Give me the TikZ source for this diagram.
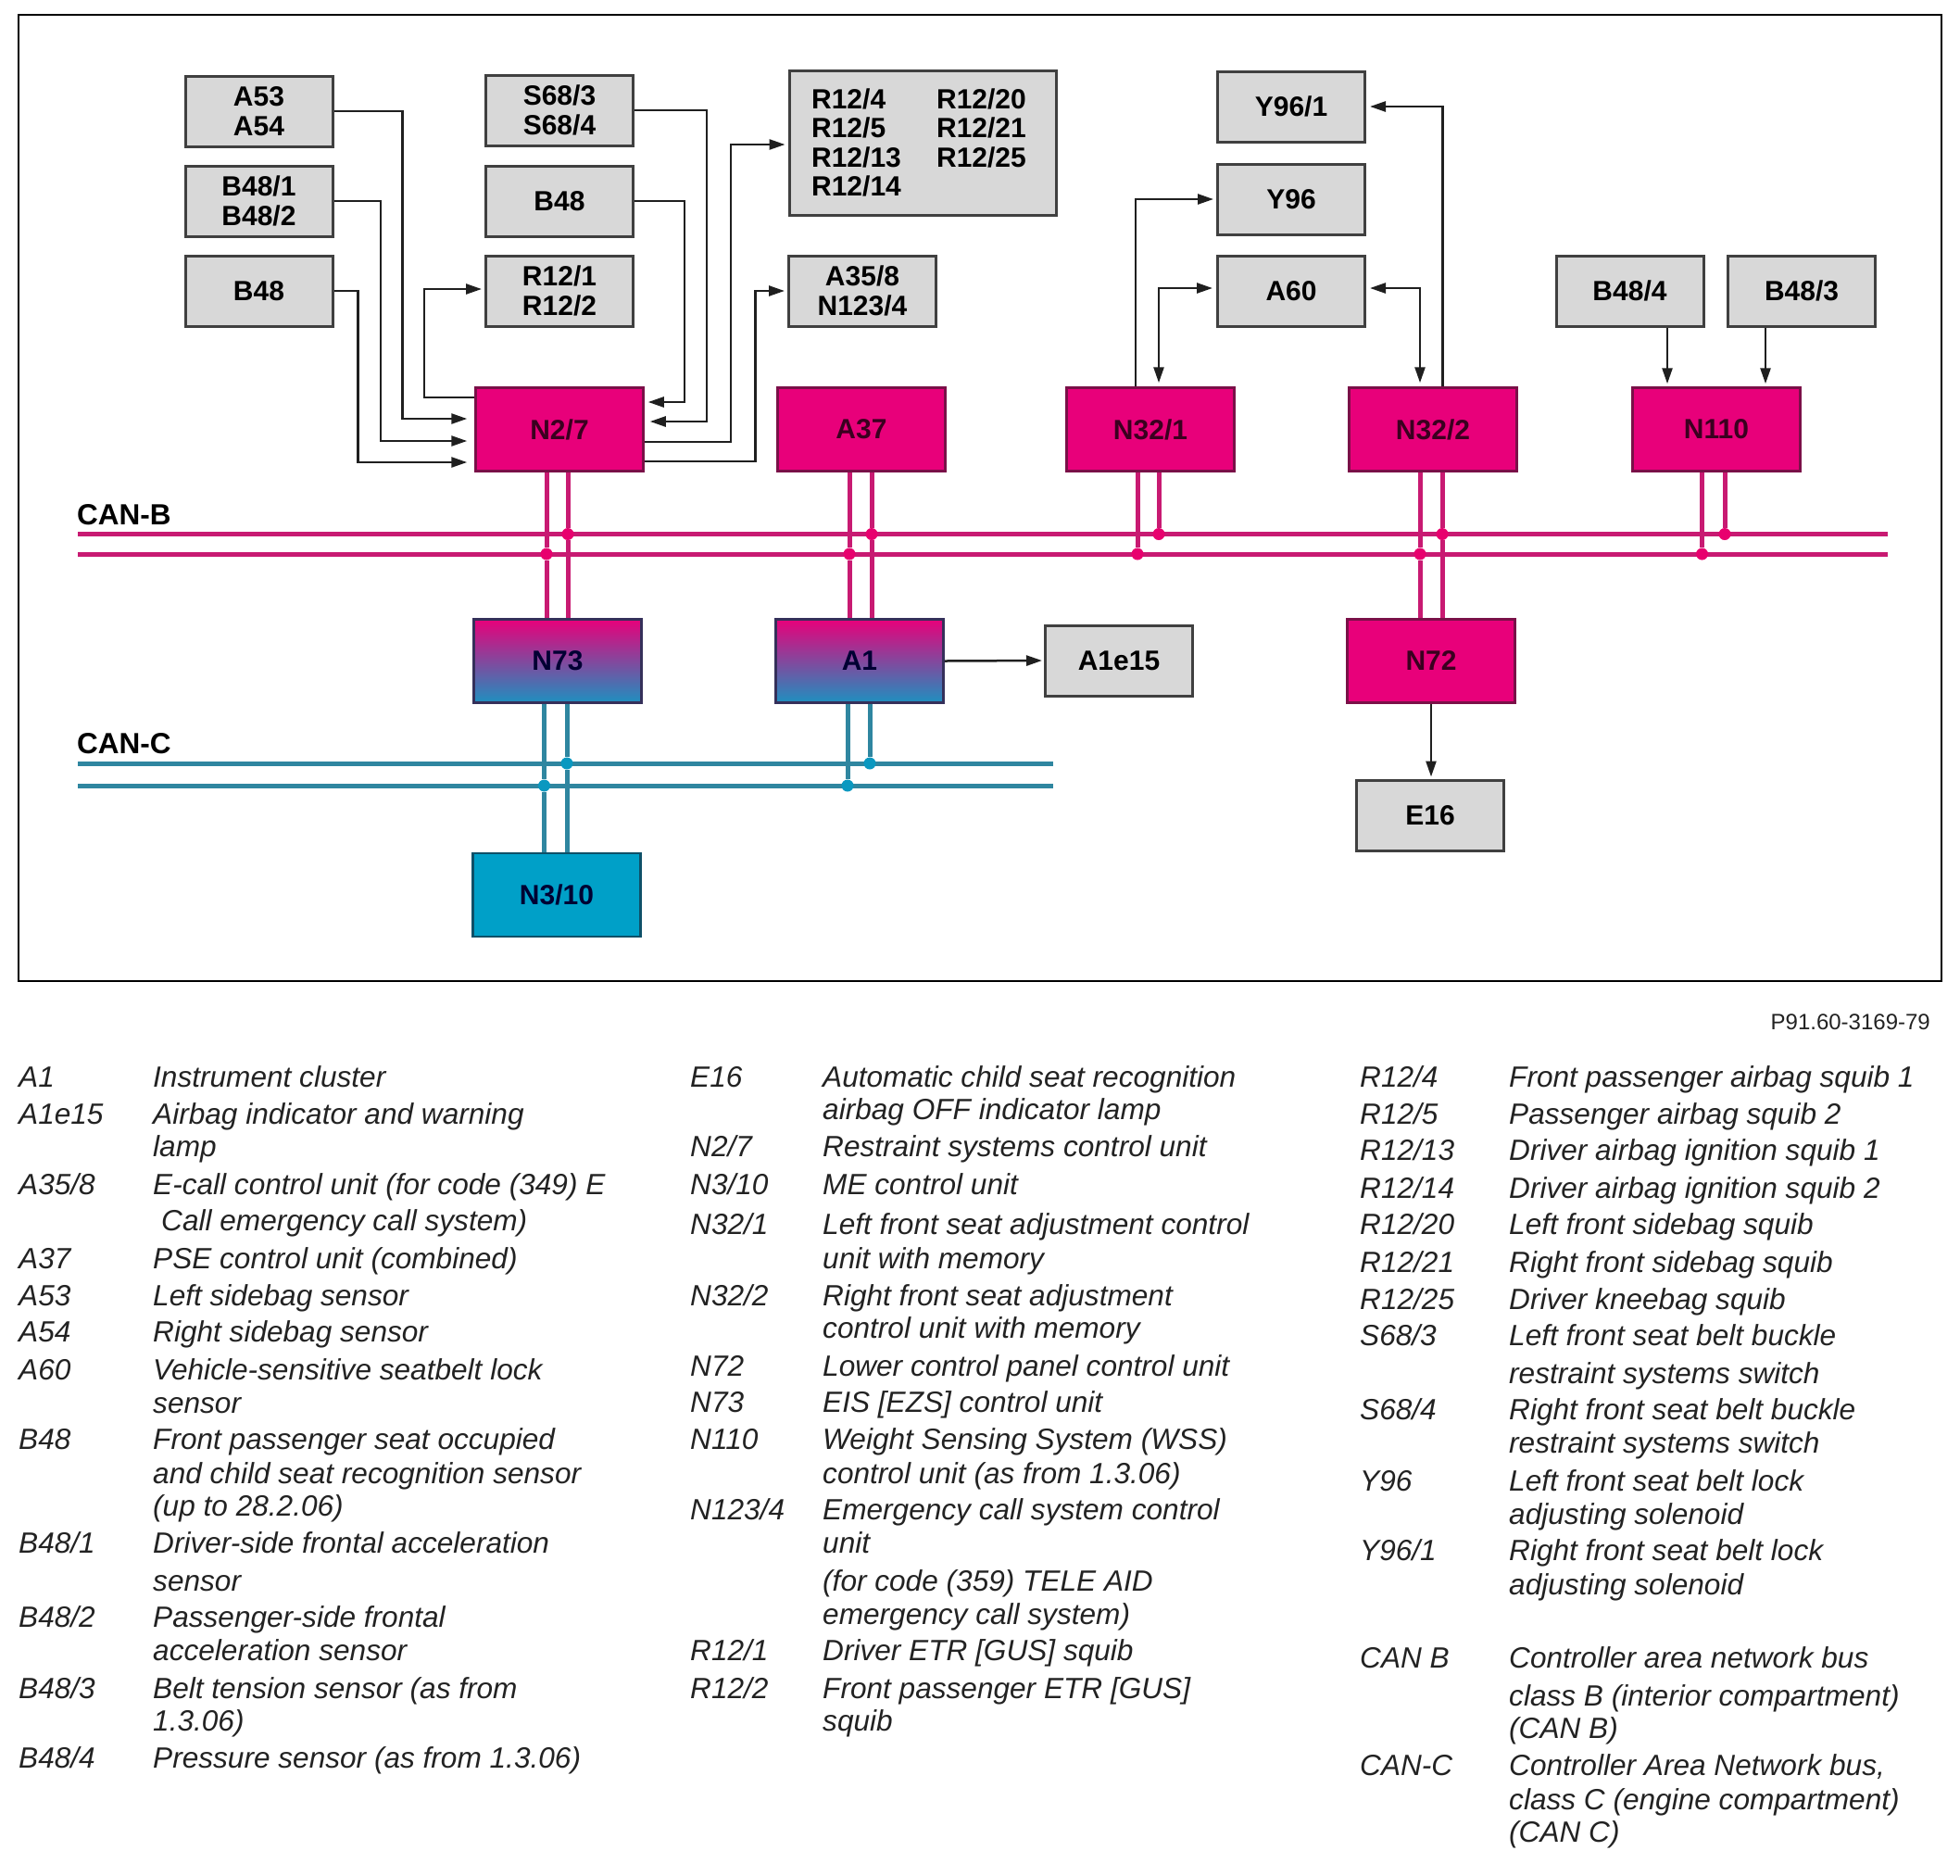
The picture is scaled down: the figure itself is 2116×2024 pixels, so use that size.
\documentclass[tikz,border=0pt]{standalone}
\usepackage{fontspec}
\setmainfont{Liberation Sans}
\usetikzlibrary{arrows.meta}
\definecolor{boxgrey}{HTML}{D8D8D8}
\definecolor{boxedge}{HTML}{404040}
\definecolor{canpink}{HTML}{E8007A}
\definecolor{pinkedge}{HTML}{7A1048}
\definecolor{busb}{HTML}{C81A72}
\definecolor{dotb}{HTML}{E8006E}
\definecolor{canblue}{HTML}{00A0C8}
\definecolor{blueedge}{HTML}{0E5068}
\definecolor{busc}{HTML}{2F86A0}
\definecolor{dotc}{HTML}{0A98C0}
\definecolor{shadeblue}{HTML}{1E90C0}
\definecolor{gateedge}{HTML}{35305A}
\definecolor{inkdark}{HTML}{222222}

\begin{document}
\begin{tikzpicture}[
    x = 1pt, y = -1pt,
    part/.style = {shape = rectangle, draw = boxedge, fill = boxgrey, line width = 3pt, minimum width = 159pt, minimum height = 76pt, inner sep = 0pt, align = center, text = black, font = \fontsize{30}{31.5}\selectfont\bfseries},
    unit/.style = {shape = rectangle, draw = pinkedge, fill = canpink, line width = 2.5pt, minimum width = 181pt, minimum height = 90pt, inner sep = 0pt, text = black!75!canpink, font = \fontsize{30}{31.5}\selectfont\bfseries},
    gateway/.style = {unit, draw = gateedge, top color = canpink, bottom color = shadeblue, text = black!80!blue},
    engine/.style = {unit, draw = blueedge, fill = canblue, text = black!80!blue},
    sig/.style = {draw = black!88, line width = 2.5pt},
    tip/.style = {sig, -{Triangle[length = 17pt, width = 11pt]}, shorten > = 3pt},
    both/.style = {sig, {Triangle[length = 17pt, width = 11pt]}-{Triangle[length = 17pt, width = 11pt]}, shorten > = 4pt, shorten < = 4pt},
    linkb/.style = {draw = busb, line width = 5pt},
    linkc/.style = {draw = busc, line width = 5pt},
    jointb/.style = {shape = circle, fill = dotb, minimum size = 13pt, inner sep = 0pt},
    jointc/.style = {shape = circle, fill = dotc, minimum size = 13pt, inner sep = 0pt},
    busname/.style = {anchor = west, inner sep = 0pt, font = \fontsize{31.5}{33}\selectfont\bfseries},
    legend/.style = {anchor = west, inner sep = 0pt, text height = 23pt, text depth = 7pt, text = inkdark, font = \fontsize{31.6}{33}\selectfont\itshape},
    ]
    \useasboundingbox (0, 0) rectangle (2116, 2024);
    \node[draw = black, line width = 1.5pt, minimum width = 2076pt, minimum height = 1043pt, inner sep = 0pt] (frame) at (1058, 537.5) {};

    \node[part] (A53) at (279.5, 120) {A53\\A54};
    \node[part] (B481) at (279.5, 217) {B48/1\\B48/2};
    \node[part] (B48a) at (279.5, 314) {B48};
    \node[part] (S68) at (604, 119) {S68/3\\S68/4};
    \node[part] (B48b) at (604, 217) {B48};
    \node[part] (R121) at (604, 314) {R12/1\\R12/2};
    \node[part, minimum width = 288pt, minimum height = 156pt] (R124) at (996, 154) {\begin{tabular}{@{}p{135pt}@{}l@{\hspace{8pt}}}\rule{0pt}{30pt}R12/4&R12/20\\R12/5&R12/21\\R12/13&R12/25\\R12/14&\end{tabular}};
    \node[part] (A358) at (931, 314) {A35/8\\N123/4};
    \node[part] (Y961) at (1394, 115) {Y96/1};
    \node[part] (Y96) at (1394, 215) {Y96};
    \node[part] (A60) at (1394, 314) {A60};
    \node[part] (B484) at (1759.5, 314) {B48/4};
    \node[part] (B483) at (1945, 314) {B48/3};
    \node[part] (A1e15) at (1208, 713) {A1e15};
    \node[part] (E16) at (1544, 880) {E16};

    \node[unit] (N27) at (604, 463.5) {N2/7};
    \node[unit] (A37) at (930, 463.5) {A37};
    \node[unit] (N321) at (1242, 463.5) {N32/1};
    \node[unit] (N322) at (1547, 463.5) {N32/2};
    \node[unit] (N110) at (1853, 463.5) {N110};
    \node[gateway] (N73) at (602, 713.5) {N73};
    \node[gateway] (A1) at (928, 713.5) {A1};
    \node[unit] (N72) at (1545, 713.5) {N72};
    \node[engine] (N310) at (601, 966) {N3/10};

    \draw[tip, shorten > = 8pt] (A53.east) -- ++(74, 0) |- ([yshift = 11.5pt]N27.west);
    \draw[tip, shorten > = 8pt] (B481.east) -- ++(50.5, 0) |- ([yshift = -12.5pt]N27.west);
    \draw[tip, shorten > = 8pt] (B48a.east) -- ++(26, 0) |- ([yshift = -35.5pt]N27.west);
    \draw[tip] ([yshift = 34.5pt]N27.west) -- ++(-54.5, 0) |- ([yshift = 2pt]R121.west);
    \draw[tip, shorten > = 4pt] (B48b.east) -- ++(54, 0) |- ([yshift = 29.5pt]N27.east);
    \draw[tip, shorten > = 6pt] (S68.east) -- ++(78, 0) |- ([yshift = 8.5pt]N27.east);
    \draw[tip] ([yshift = -13.5pt]N27.east) -- ++(93, 0) |- ([yshift = -2pt]R124.west);
    \draw[tip] ([yshift = -34.5pt]N27.east) -- ++(119.5, 0) |- (A358.west);

    \draw[tip] ([xshift = -16pt]N321.north) |- (Y96.west);
    \draw[both] ([xshift = 9pt]N321.north) |- ([yshift = 3pt]A60.west);
    \draw[both] ([xshift = -14pt]N322.north) |- ([yshift = 3pt]A60.east);
    \draw[tip, shorten > = 4pt] ([xshift = 10.5pt]N322.north) |- (Y961.east);
    \draw[tip] ([xshift = 40.5pt]B484.south) -- ([xshift = 40.5pt]B484.south |- N110.north);
    \draw[tip] ([xshift = -39pt]B483.south) -- ([xshift = -39pt]B483.south |- N110.north);
    \draw[tip, shorten > = 2pt] (A1.east) -- (A1e15.west);
    \draw[tip, shorten > = 2pt] (N72.south) -- (N72.south |- E16.north);

    \node[busname] (canB) at (83, 556) {CAN-B};
    \node[busname] (canC) at (83, 803) {CAN-C};
    \coordinate (b1w) at (84, 576.5);
    \coordinate (b1e) at (2038, 576.5);
    \coordinate (b2w) at (84, 598);
    \coordinate (b2e) at (2038, 598);
    \coordinate (c1w) at (84, 824);
    \coordinate (c1e) at (1137, 824);
    \coordinate (c2w) at (84, 848);
    \coordinate (c2e) at (1137, 848);
    \draw[linkb] (b1w) -- (b1e);
    \draw[linkb] (b2w) -- (b2e);
    \draw[linkc] (c1w) -- (c1e);
    \draw[linkc] (c2w) -- (c2e);

    \node[jointb] (J1) at (590, 598) {};
    \node[jointb] (J2) at (613, 576.5) {};
    \node[jointb] (J3) at (917, 598) {};
    \node[jointb] (J4) at (941, 576.5) {};
    \node[jointb] (J5) at (1228, 598) {};
    \node[jointb] (J6) at (1251, 576.5) {};
    \node[jointb] (J7) at (1533, 598) {};
    \node[jointb] (J8) at (1557, 576.5) {};
    \node[jointb] (J9) at (1837.5, 598) {};
    \node[jointb] (J10) at (1862, 576.5) {};
    \node[jointc] (J11) at (587.5, 848) {};
    \node[jointc] (J12) at (612, 824) {};
    \node[jointc] (J13) at (915, 848) {};
    \node[jointc] (J14) at (939, 824) {};

    \draw[linkb] (N27.south -| J1) -- (J1);
    \draw[linkb] (J1) -- (N73.north -| J1);
    \draw[linkb] (N27.south -| J2) -- (J2);
    \draw[linkb] (J2) -- (N73.north -| J2);
    \draw[linkb] (A37.south -| J3) -- (J3);
    \draw[linkb] (J3) -- (A1.north -| J3);
    \draw[linkb] (A37.south -| J4) -- (J4);
    \draw[linkb] (J4) -- (A1.north -| J4);
    \draw[linkb] (N321.south -| J5) -- (J5);
    \draw[linkb] (N321.south -| J6) -- (J6);
    \draw[linkb] (N322.south -| J7) -- (J7);
    \draw[linkb] (J7) -- (N72.north -| J7);
    \draw[linkb] (N322.south -| J8) -- (J8);
    \draw[linkb] (J8) -- (N72.north -| J8);
    \draw[linkb] (N110.south -| J9) -- (J9);
    \draw[linkb] (N110.south -| J10) -- (J10);
    \draw[linkc] (N73.south -| J11) -- (J11);
    \draw[linkc] (J11) -- (N310.north -| J11);
    \draw[linkc] (N73.south -| J12) -- (J12);
    \draw[linkc] (J12) -- (N310.north -| J12);
    \draw[linkc] (A1.south -| J13) -- (J13);
    \draw[linkc] (A1.south -| J14) -- (J14);

    \node[anchor = east, inner sep = 0pt, text = inkdark, font = \fontsize{24}{26}\selectfont] (code) at (2084, 1103) {P91.60-3169-79};

    \begin{scope}[yshift = -3pt]
    \node[legend] (kA1) at (20, 1162) {A1};
    \node[legend] (tA1) at (165, 1162) {Instrument cluster};
    \node[legend] (kA1e) at (20, 1202) {A1e15};
    \node[legend] (tA1ea) at (165, 1202) {Airbag indicator and warning};
    \node[legend] (tA1eb) at (165, 1237.5) {lamp};
    \node[legend] (kA35) at (20, 1278) {A35/8};
    \node[legend] (tA35a) at (165, 1278) {E-call control unit (for code (349) E};
    \node[legend] (tA35b) at (174, 1317) {Call emergency call system)};
    \node[legend] (kA37) at (20, 1358) {A37};
    \node[legend] (tA37) at (165, 1358) {PSE control unit (combined)};
    \node[legend] (kA53) at (20, 1398) {A53};
    \node[legend] (tA53) at (165, 1398) {Left sidebag sensor};
    \node[legend] (kA54) at (20, 1437) {A54};
    \node[legend] (tA54) at (165, 1437) {Right sidebag sensor};
    \node[legend] (kA60) at (20, 1478) {A60};
    \node[legend] (tA60a) at (165, 1478) {Vehicle-sensitive seatbelt lock};
    \node[legend] (tA60b) at (165, 1514) {sensor};
    \node[legend] (kB48) at (20, 1553) {B48};
    \node[legend] (tB48a) at (165, 1553) {Front passenger seat occupied};
    \node[legend] (tB48b) at (165, 1590) {and child seat recognition sensor};
    \node[legend] (tB48c) at (165, 1625) {(up to 28.2.06)};
    \node[legend] (kB481) at (20, 1665) {B48/1};
    \node[legend] (tB481a) at (165, 1665) {Driver-side frontal acceleration};
    \node[legend] (tB481b) at (165, 1706) {sensor};
    \node[legend] (kB482) at (20, 1745) {B48/2};
    \node[legend] (tB482a) at (165, 1745) {Passenger-side frontal};
    \node[legend] (tB482b) at (165, 1781) {acceleration sensor};
    \node[legend] (kB483) at (20, 1822) {B48/3};
    \node[legend] (tB483a) at (165, 1822) {Belt tension sensor (as from};
    \node[legend] (tB483b) at (165, 1857) {1.3.06)};
    \node[legend] (kB484) at (20, 1897) {B48/4};
    \node[legend] (tB484) at (165, 1897) {Pressure sensor (as from 1.3.06)};

    \node[legend] (kE16) at (745, 1162) {E16};
    \node[legend] (tE16a) at (888, 1162) {Automatic child seat recognition};
    \node[legend] (tE16b) at (888, 1197) {airbag OFF indicator lamp};
    \node[legend] (kN27) at (745, 1237.5) {N2/7};
    \node[legend] (tN27) at (888, 1237.5) {Restraint systems control unit};
    \node[legend] (kN310) at (745, 1278) {N3/10};
    \node[legend] (tN310) at (888, 1278) {ME control unit};
    \node[legend] (kN321) at (745, 1321) {N32/1};
    \node[legend] (tN321a) at (888, 1321) {Left front seat adjustment control};
    \node[legend] (tN321b) at (888, 1358) {unit with memory};
    \node[legend] (kN322) at (745, 1398) {N32/2};
    \node[legend] (tN322a) at (888, 1398) {Right front seat adjustment};
    \node[legend] (tN322b) at (888, 1433) {control unit with memory};
    \node[legend] (kN72) at (745, 1474) {N72};
    \node[legend] (tN72) at (888, 1474) {Lower control panel control unit};
    \node[legend] (kN73) at (745, 1513) {N73};
    \node[legend] (tN73) at (888, 1513) {EIS [EZS] control unit};
    \node[legend] (kN110) at (745, 1553) {N110};
    \node[legend] (tN110a) at (888, 1553) {Weight Sensing System (WSS)};
    \node[legend] (tN110b) at (888, 1590) {control unit (as from 1.3.06)};
    \node[legend] (kN123) at (745, 1629) {N123/4};
    \node[legend] (tN123a) at (888, 1629) {Emergency call system control};
    \node[legend] (tN123b) at (888, 1665) {unit};
    \node[legend] (tN123c) at (888, 1706) {(for code (359) TELE AID};
    \node[legend] (tN123d) at (888, 1742) {emergency call system)};
    \node[legend] (kR121) at (745, 1781) {R12/1};
    \node[legend] (tR121) at (888, 1781) {Driver ETR [GUS] squib};
    \node[legend] (kR122) at (745, 1822) {R12/2};
    \node[legend] (tR122a) at (888, 1822) {Front passenger ETR [GUS]};
    \node[legend] (tR122b) at (888, 1857) {squib};

    \node[legend] (kR124) at (1468, 1162) {R12/4};
    \node[legend] (tR124) at (1629, 1162) {Front passenger airbag squib 1};
    \node[legend] (kR125) at (1468, 1202) {R12/5};
    \node[legend] (tR125) at (1629, 1202) {Passenger airbag squib 2};
    \node[legend] (kR1213) at (1468, 1241.5) {R12/13};
    \node[legend] (tR1213) at (1629, 1241.5) {Driver airbag ignition squib 1};
    \node[legend] (kR1214) at (1468, 1282) {R12/14};
    \node[legend] (tR1214) at (1629, 1282) {Driver airbag ignition squib 2};
    \node[legend] (kR1220) at (1468, 1321) {R12/20};
    \node[legend] (tR1220) at (1629, 1321) {Left front sidebag squib};
    \node[legend] (kR1221) at (1468, 1362) {R12/21};
    \node[legend] (tR1221) at (1629, 1362) {Right front sidebag squib};
    \node[legend] (kR1225) at (1468, 1402) {R12/25};
    \node[legend] (tR1225) at (1629, 1402) {Driver kneebag squib};
    \node[legend] (kS683) at (1468, 1441) {S68/3};
    \node[legend] (tS683a) at (1629, 1441) {Left front seat belt buckle};
    \node[legend] (tS683b) at (1629, 1482) {restraint systems switch};
    \node[legend] (kS684) at (1468, 1521) {S68/4};
    \node[legend] (tS684a) at (1629, 1521) {Right front seat belt buckle};
    \node[legend] (tS684b) at (1629, 1557) {restraint systems switch};
    \node[legend] (kY96) at (1468, 1598) {Y96};
    \node[legend] (tY96a) at (1629, 1598) {Left front seat belt lock};
    \node[legend] (tY96b) at (1629, 1634) {adjusting solenoid};
    \node[legend] (kY961) at (1468, 1673) {Y96/1};
    \node[legend] (tY961a) at (1629, 1673) {Right front seat belt lock};
    \node[legend] (tY961b) at (1629, 1710) {adjusting solenoid};
    \node[legend] (kcanB) at (1468, 1789) {CAN B};
    \node[legend] (tcanBa) at (1629, 1789) {Controller area network bus};
    \node[legend] (tcanBb) at (1629, 1830) {class B (interior compartment)};
    \node[legend] (tcanBc) at (1629, 1865) {(CAN B)};
    \node[legend] (kcanC) at (1468, 1905) {CAN-C};
    \node[legend] (tcanCa) at (1629, 1905) {Controller Area Network bus,};
    \node[legend] (tcanCb) at (1629, 1942) {class C (engine compartment)};
    \node[legend] (tcanCc) at (1629, 1977) {(CAN C)};
    \end{scope}
\end{tikzpicture}
\end{document}
